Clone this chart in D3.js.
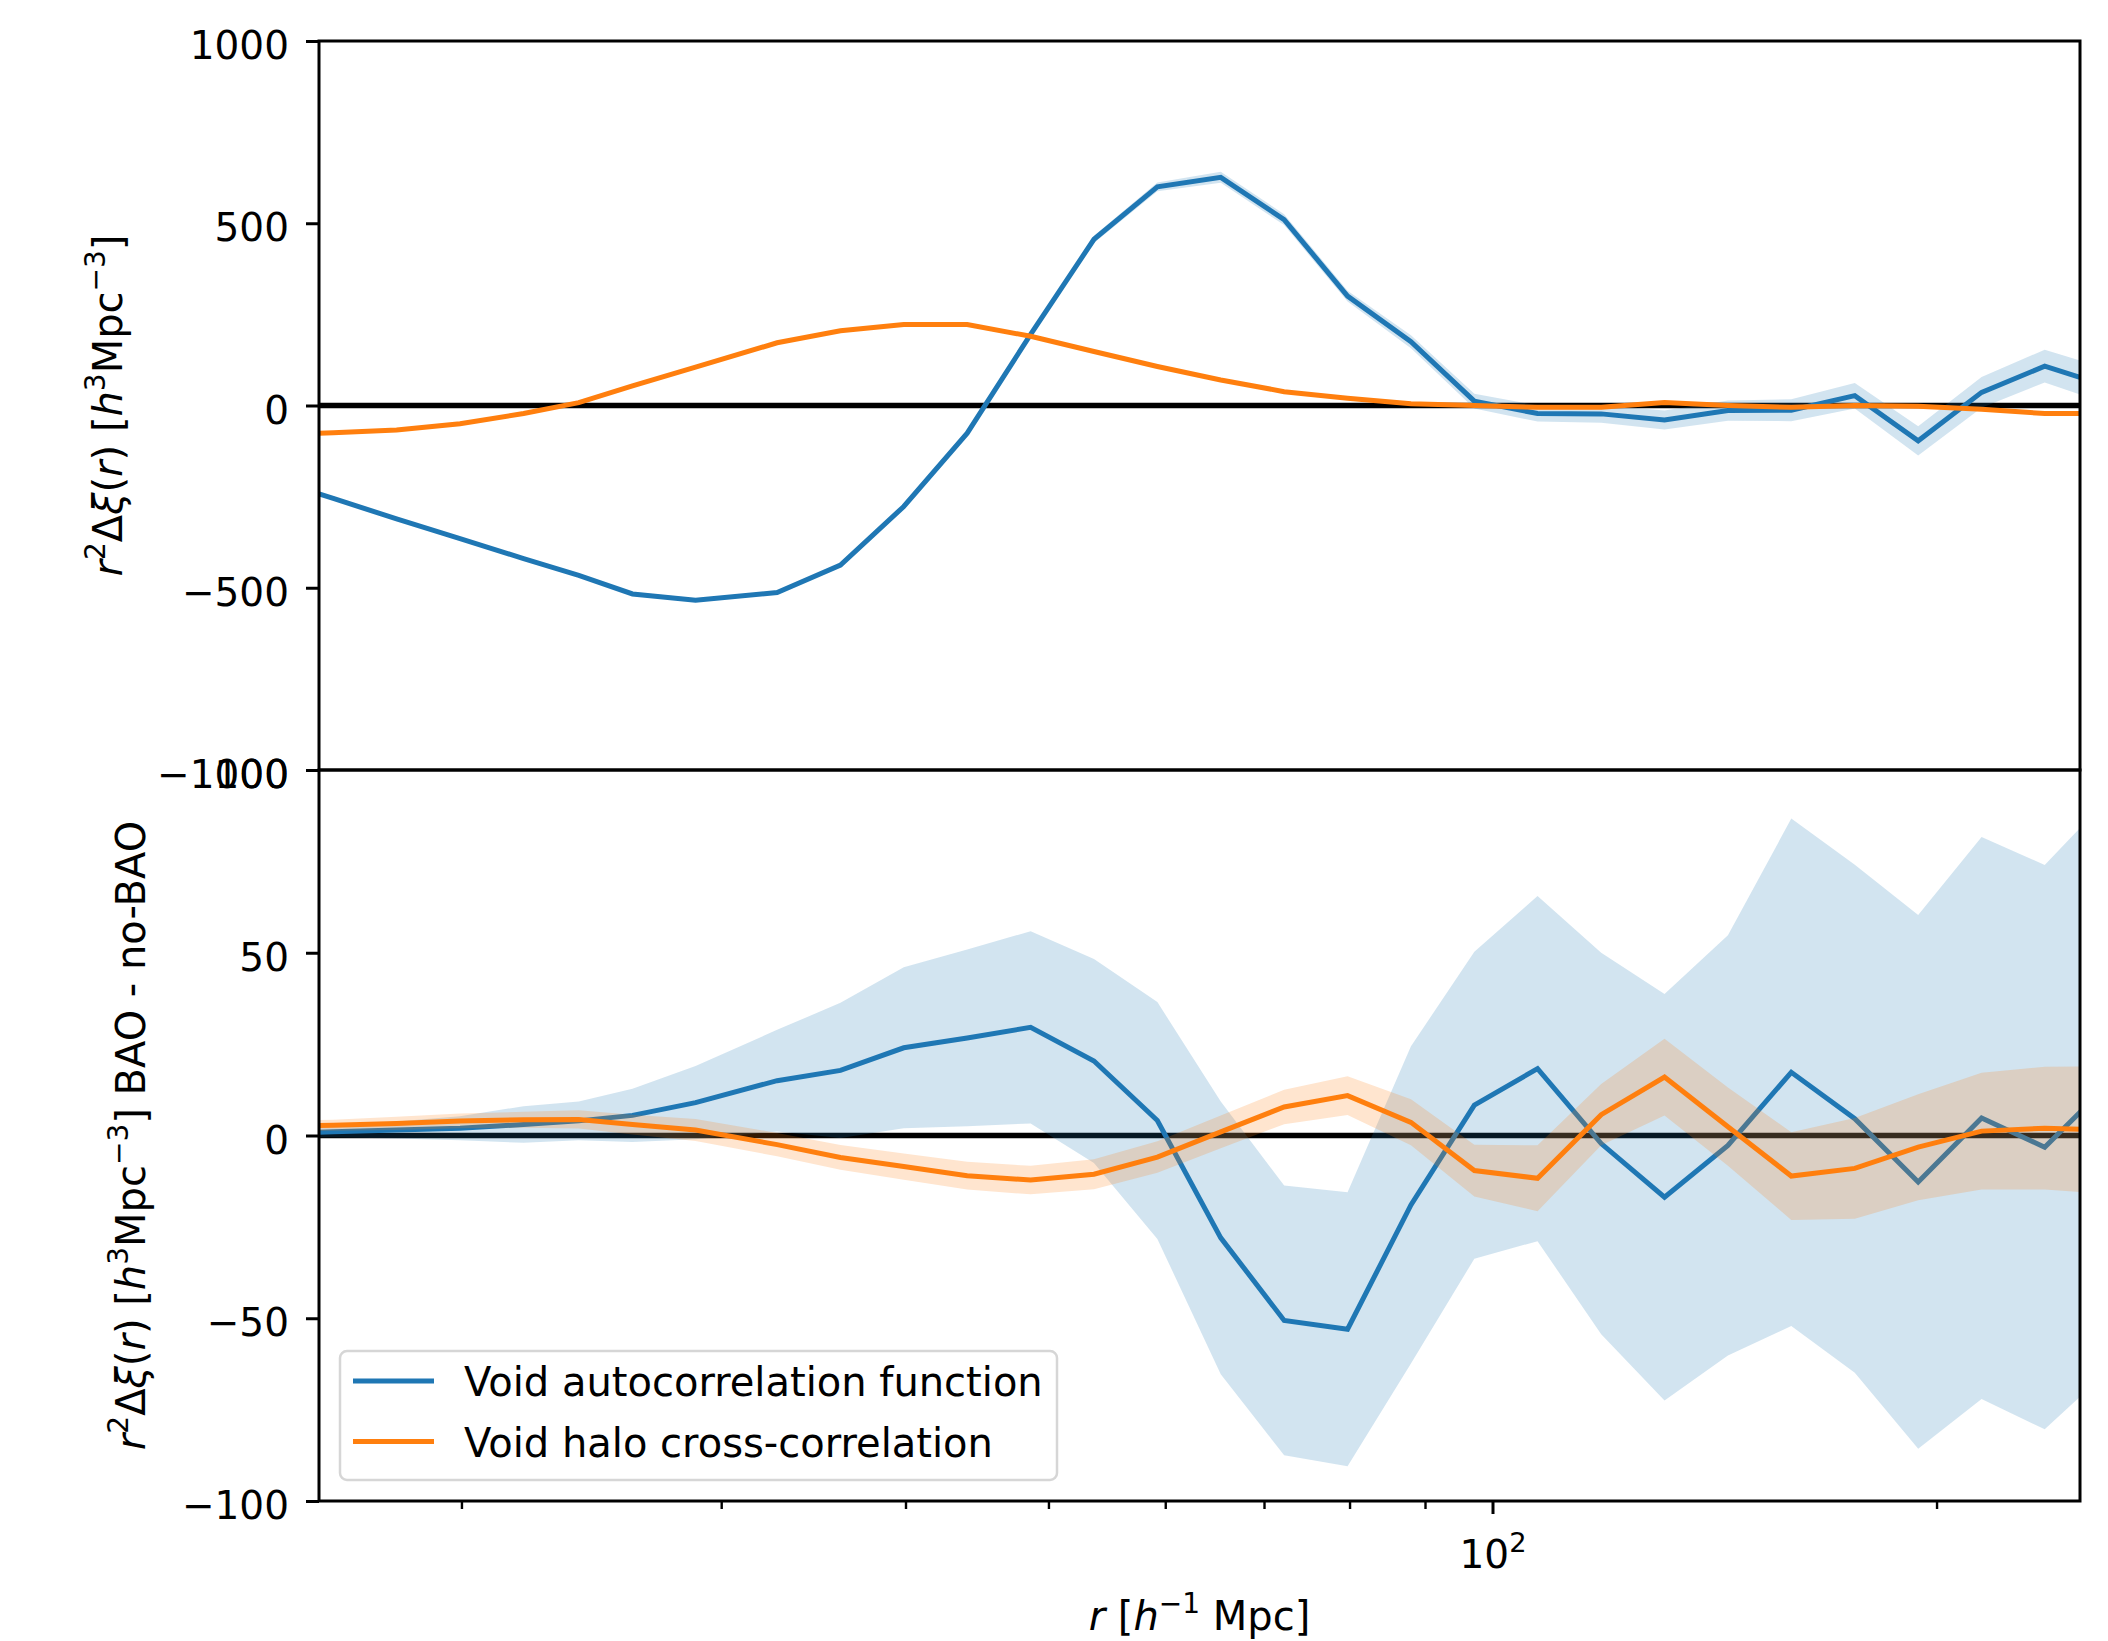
<!DOCTYPE html>
<html>
<head>
<meta charset="utf-8">
<script src="https://cdnjs.cloudflare.com/ajax/libs/d3/7.8.5/d3.min.js"></script>
<style>
  body { margin: 0; background: #fff; }
  text { font-family: "DejaVu Sans", sans-serif; fill: #000; }
</style>
</head>
<body>
<script>
// separation bins, h^-1 Mpc
const radii = [14.82, 16.36, 18.06, 19.94, 22.02, 24.0, 26.1, 28.8, 32.71, 36.11,
               39.86, 44.01, 48.59, 53.64, 59.22, 65.38, 72.18, 79.69, 87.98, 97.13,
               107.2, 118.4, 130.7, 144.3, 159.3, 175.9, 194.2, 214.4, 236.6, 261.3];

// top panel: r^2 dxi(r)
const autoTop = [-200, -255, -311, -365, -420, -466, -517, -534, -513, -438,
                 -277, -76, 195, 456, 600, 626, 510, 300, 175, 12,
                 -22, -23, -40, -14, -13, 27, -97, 36, 108, 52];
const autoTopErr = [5, 5, 5, 5, 5, 5, 5, 5, 5, 5,
                    6, 7, 8, 10, 12, 15, 15, 15, 18, 20,
                    22, 24, 26, 28, 30, 35, 40, 42, 45, 48];
const crossTop = [-80, -75, -67, -50, -22, 8, 54, 105, 172, 205,
                  222, 222, 190, 148, 107, 70, 38, 20, 5, 0,
                  -5, -5, 8, 0, -5, 0, -2, -10, -22, -22];
const crossTopErr = [2, 2, 2, 2, 2, 2, 2, 2, 2, 2,
                     2, 2, 2, 2, 2, 2, 2, 2, 3, 3,
                     3, 3, 4, 4, 4, 4, 5, 5, 5, 5];

// bottom panel: BAO - no-BAO
const autoDiff = [0.5, 1, 1.5, 2, 3, 4, 5.5, 9, 15, 17.8,
                  24, 26.7, 29.6, 20.4, 4.1, -28, -50.6, -53, -19, 8.3,
                  18.3, -2.2, -16.9, -2.7, 17.3, 4.6, -12.7, 4.8, -3.2, 14];
const autoDiffErr = [1, 1.5, 2.3, 3.3, 5, 5.3, 7.3, 10, 13.9, 18.5,
                     22, 24.2, 26.3, 27.9, 32.4, 37.3, 36.9, 37.5, 43.4, 42,
                     47.2, 52.2, 55.6, 57.5, 69.4, 69.5, 73, 76.9, 77.2, 78.3];
const crossDiff = [2.5, 2.8, 3.3, 4, 4.3, 4.4, 3, 1.5, -2.5, -6,
                   -8.5, -11, -12.2, -10.6, -5.9, 1, 7.8, 10.9, 3.6, -9.6,
                   -11.7, 5.7, 16, 2.4, -11.1, -9, -3.2, 1.2, 2, 1.5];
const crossDiffErr = [1.5, 1.5, 1.8, 2, 2.2, 2.5, 2.7, 3, 3.2, 3.4,
                      3.6, 3.8, 3.9, 4.1, 4.3, 4.5, 4.7, 5.3, 6.3, 7.1,
                      9, 8.4, 10.5, 10.7, 12, 13.8, 14.5, 16, 16.8, 17.5];

const topTicks = [1000, 500, 0, -500, -1000];
const bottomTicks = [100, 50, 0, -50, -100];
const xMajorTicks = [100];
const xMinorTicks = [20, 30, 40, 50, 60, 70, 80, 90, 200];
const seriesNames = ["Void autocorrelation function", "Void halo cross-correlation"];

const blue = "#1f77b4", orange = "#ff7f0e";
const width = 2108, height = 1641;
const plotL = 319, plotR = 2080, plotT = 41, plotM = 770, plotB = 1501;
const tickFs = 39, labelFs = 40;

const svg = d3.select("body").append("svg")
    .attr("width", width)
    .attr("height", height);

const x = d3.scaleLog().domain([16, 250]).range([plotL, plotR]);
const yTop = d3.scaleLinear().domain([-1000, 1000]).range([plotM, plotT]);
const yBot = d3.scaleLinear().domain([-100, 100]).range([plotB, plotM]);

svg.append("clipPath").attr("id", "clipTop")
    .append("rect").attr("x", plotL).attr("y", plotT).attr("width", plotR - plotL).attr("height", plotM - plotT);
svg.append("clipPath").attr("id", "clipBot")
    .append("rect").attr("x", plotL).attr("y", plotM).attr("width", plotR - plotL).attr("height", plotB - plotM);

// builds a text with italic letters and superscripts from segments
function richText(sel, segs, size) {
    var shift = 0;
    sel.attr("font-size", size + "px");
    segs.forEach(function (s) {
        var t = sel.append("tspan").text(s.t);
        var want = s.sup ? -0.42 : 0;
        if (want !== shift) {
            t.attr("dy", ((want - shift) * size) + "px");
            shift = want;
        }
        if (s.sup) t.attr("font-size", (size * 0.7) + "px");
        if (s.it) t.attr("font-style", "italic");
    });
}

function panel(y, clipId, series, ticks) {
    var g = svg.append("g");
    var plot = g.append("g").attr("clip-path", "url(#" + clipId + ")");

    plot.append("line")
        .attr("x1", plotL).attr("x2", plotR)
        .attr("y1", y(0)).attr("y2", y(0))
        .attr("stroke", "#000").attr("stroke-width", 5.5);

    series.forEach(function (s) {
        var pts = radii.map((r, i) => ({ r: r, v: s.vals[i], e: s.errs[i] }));
        var area = d3.area()
            .x(d => x(d.r))
            .y0(d => y(d.v - d.e))
            .y1(d => y(d.v + d.e));
        var line = d3.line()
            .x(d => x(d.r))
            .y(d => y(d.v));
        plot.append("path")
            .attr("d", area(pts))
            .attr("fill", s.color)
            .attr("fill-opacity", 0.2);
        plot.append("path")
            .attr("d", line(pts))
            .attr("fill", "none")
            .attr("stroke", s.color)
            .attr("stroke-width", 5)
            .attr("stroke-linejoin", "miter");
    });

    g.append("rect")
        .attr("x", plotL).attr("y", y.range()[1])
        .attr("width", plotR - plotL).attr("height", y.range()[0] - y.range()[1])
        .attr("fill", "none").attr("stroke", "#000").attr("stroke-width", 3);

    var yAxis = d3.axisLeft(y)
        .tickValues(ticks)
        .tickSize(13)
        .tickPadding(17)
        .tickFormat(d => d3.format("d")(d).replace("-", "\u2212"));
    var ax = g.append("g").attr("transform", "translate(" + plotL + ",0)").call(yAxis);
    ax.select(".domain").remove();
    ax.selectAll(".tick line").attr("stroke", "#000").attr("stroke-width", 3);
    ax.selectAll(".tick text")
        .attr("font-size", tickFs + "px")
        .attr("font-family", "DejaVu Sans")
        .attr("fill", "#000")
        .attr("dy", "0.45em");
    return g;
}

panel(yTop, "clipTop", [
    { vals: autoTop, errs: autoTopErr, color: blue },
    { vals: crossTop, errs: crossTopErr, color: orange }
], topTicks);

// bottom panel drawn after the top one, as in the shared-axis figure
panel(yBot, "clipBot", [
    { vals: autoDiff, errs: autoDiffErr, color: blue },
    { vals: crossDiff, errs: crossDiffErr, color: orange }
], bottomTicks);

// log x axis at the bottom
var xg = svg.append("g");
xg.selectAll(".major").data(xMajorTicks).enter().append("line")
    .attr("x1", d => x(d)).attr("x2", d => x(d))
    .attr("y1", plotB).attr("y2", plotB + 13)
    .attr("stroke", "#000").attr("stroke-width", 3);
xg.selectAll(".minor").data(xMinorTicks).enter().append("line")
    .attr("x1", d => x(d)).attr("x2", d => x(d))
    .attr("y1", plotB).attr("y2", plotB + 8)
    .attr("stroke", "#000").attr("stroke-width", 2.4);
xg.selectAll(".lab").data(xMajorTicks).enter().append("text")
    .attr("x", d => x(d)).attr("y", 1568)
    .attr("text-anchor", "middle")
    .each(function (d) {
        richText(d3.select(this), [{ t: "10" }, { t: String(Math.round(Math.log10(d))), sup: true }], tickFs);
    });

var xl = svg.append("text")
    .attr("x", (plotL + plotR) / 2).attr("y", 1630)
    .attr("text-anchor", "middle");
richText(xl, [{ t: "r", it: true }, { t: " [" }, { t: "h", it: true }, { t: "\u22121", sup: true }, { t: " Mpc]" }], labelFs);

// y labels
var ylabSegs = [{ t: "r", it: true }, { t: "2", sup: true }, { t: "\u0394" }, { t: "\u03be", it: true },
    { t: "(" }, { t: "r", it: true }, { t: ") [" }, { t: "h", it: true }, { t: "3", sup: true },
    { t: "Mpc" }, { t: "\u22123", sup: true }, { t: "]" }];

var yl1 = svg.append("text")
    .attr("transform", "translate(122," + (plotT + plotM) / 2 + ") rotate(-90)")
    .attr("text-anchor", "middle");
richText(yl1, ylabSegs, labelFs);

var yl2 = svg.append("text")
    .attr("transform", "translate(145," + (plotM + plotB) / 2 + ") rotate(-90)")
    .attr("text-anchor", "middle");
richText(yl2, ylabSegs.concat([{ t: " BAO - no-BAO" }]), labelFs);

// legend
var lg = svg.append("g");
lg.append("rect")
    .attr("x", 340).attr("y", 1351).attr("width", 717).attr("height", 129)
    .attr("rx", 7).attr("ry", 7)
    .attr("fill", "#fff").attr("fill-opacity", 0.8)
    .attr("stroke", "#d6d6d6").attr("stroke-width", 2.5);
var items = lg.selectAll(".item").data(seriesNames).enter().append("g")
    .attr("transform", (d, i) => "translate(0," + (1381 + i * 60.5) + ")");
items.append("line")
    .attr("x1", 353).attr("x2", 434)
    .attr("stroke", (d, i) => i === 0 ? blue : orange)
    .attr("stroke-width", 5);
items.append("text")
    .attr("x", 464).attr("y", 15)
    .attr("font-size", "40px")
    .text(d => d);
</script>
</body>
</html>
